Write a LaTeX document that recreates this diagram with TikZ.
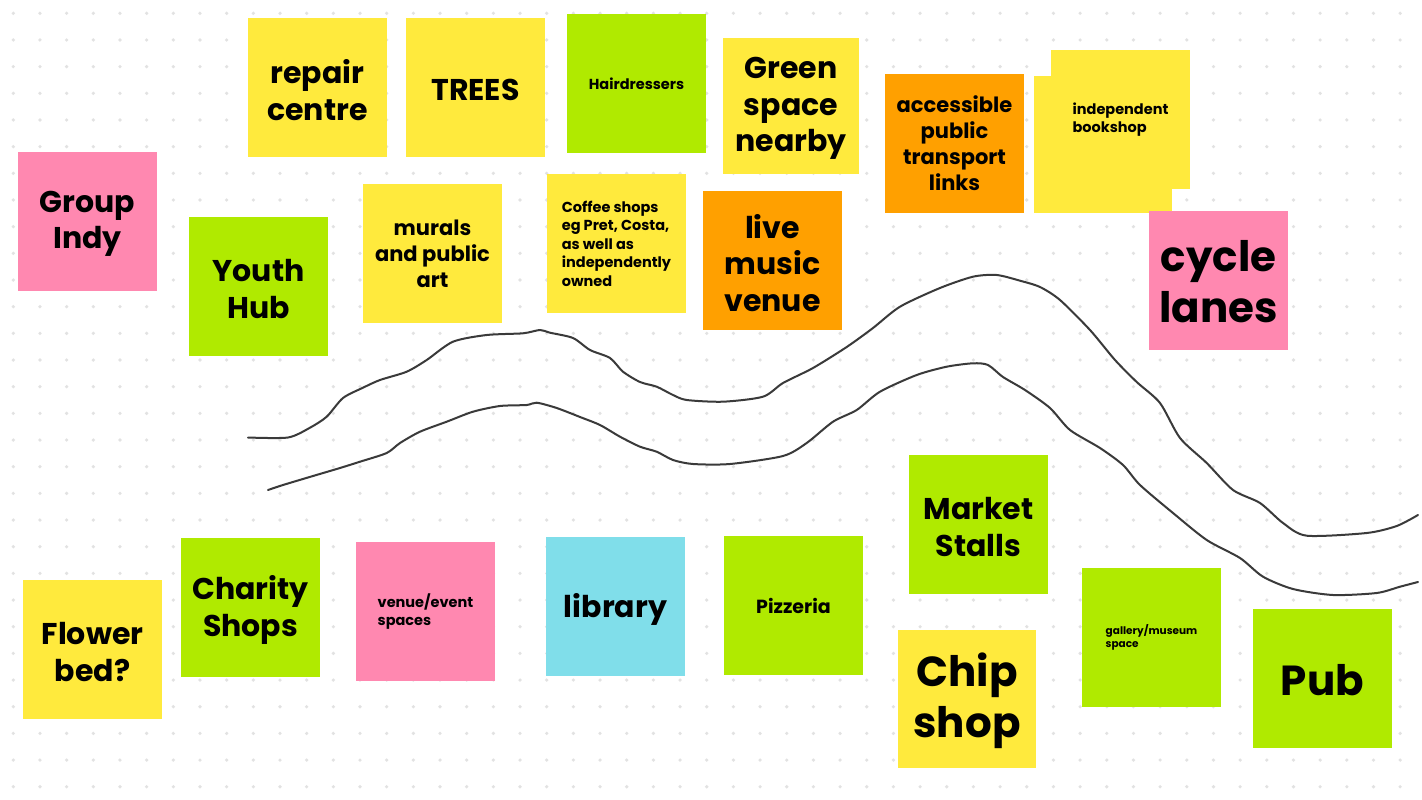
\documentclass[tikz,border=0pt]{standalone}
\usepackage{fontspec}
\setmainfont{Poppins}
\definecolor{ny}{HTML}{FFEA3D}
\definecolor{ng}{HTML}{B0EA00}
\definecolor{np}{HTML}{FF88B0}
\definecolor{no}{HTML}{FFA000}
\definecolor{nb}{HTML}{80DEEA}
\definecolor{dotc}{HTML}{E2E2E2}
\definecolor{linec}{HTML}{3A3A3A}
\tikzset{
  note/.style={minimum width=139pt, minimum height=139pt, inner sep=0pt, draw=none},
  lbl/.style={inner sep=0pt, text=black, font=\bfseries},
  fxl/.style={lbl, align=center, yshift=-2.5pt, font=\bfseries\fontsize{30}{36.5}\selectfont},
  fl/.style={lbl, align=center, font=\bfseries\fontsize{21}{26}\selectfont},
  fxxl/.style={lbl, align=center, yshift=-1.5pt, font=\bfseries\fontsize{42}{51}\selectfont},
  fs/.style={lbl, align=left, font=\bfseries\fontsize{14.5}{18.5}\selectfont},
  fxs/.style={lbl, align=left, font=\bfseries\fontsize{10.5}{13}\selectfont},
  wave/.style={draw=linec, line width=2pt, line join=round, line cap=round}
}
\begin{document}
\begin{tikzpicture}[x=1pt,y=-1pt]
\useasboundingbox (0,0) rectangle (1422,800);
\fill[white] (0,0) rectangle (1422,800);
% dot grid
\foreach \i in {0,...,53}{
  \foreach \j in {0,...,29}{
    \fill[dotc] ({13.3+26.67*\i},{13.3+26.67*\j}) circle (1.8pt);
  }
}
% waves
\draw[wave] plot[smooth, tension=0.45] coordinates {(248,437.5) (288,437.5) (310,427.7) (326.7,416.7) (343,398) (363,387.7) (380,380) (406.7,371.7) (426.7,360) (453,341.7) (486.7,335) (523,333.3) (540,330) (550,332.7) (573,338) (590,350) (610,358) (623,371.7) (640,382) (656.7,386.7) (673,395) (686.7,400) (723,401.7) (763,396.7) (783,383) (813,368) (846.7,347) (873,328) (900,306.7) (940,288) (973,276.7) (996.7,275) (1020,280.7) (1040,287) (1060,300) (1090,330) (1115,360) (1136.7,382) (1160,403) (1180,438) (1206.7,463) (1233,490) (1260,503) (1283,523) (1306.7,535.7) (1366.7,533) (1396.7,526) (1418,515)};
\draw[wave] plot[smooth, tension=0.45] coordinates {(268,490) (283,485) (313,476) (340,468) (360,461.7) (386.7,453) (400,443) (420,431.7) (446.7,421.7) (473,411.7) (500,406) (526.7,405) (536.7,402.7) (556.7,408) (580,417) (600,425) (620,436.7) (640,446.7) (656.7,451.7) (673,460) (693,464) (730,464) (783,456) (806.7,443) (833,421.7) (856.7,410) (880,391.7) (916.7,375) (946.7,366.7) (973,363.3) (988,365) (1003,377) (1025,390) (1050,408) (1070,430) (1100,448) (1123,465) (1140,485) (1173,513) (1206.7,540) (1240,558) (1263,576.7) (1293,589) (1333,595) (1376.7,593) (1400,586.7) (1418,582)};
% top row notes
\node[note, fill=ny] (repair) at (317.5,87.5) {};
\node[fxl] (trepair) at (repair.center) {repair\\centre};
\node[note, fill=ny] (trees) at (475.5,87.5) {};
\node[fxl] (ttrees) at (trees.center) {TREES};
\node[note, fill=ng] (hair) at (636.5,83.5) {};
\node[fs] (thair) at (hair.center) {Hairdressers};
\node[note, fill=ny, minimum width=136pt, minimum height=136pt] (green) at (791,106) {};
\node[fxl] (tgreen) at (green.center) {Green\\space\\nearby};
\node[note, fill=no] (access) at (954.5,143.5) {};
\node[fl] (taccess) at (access.center) {accessible\\public\\transport\\links};
\node[note, fill=ny] (bookback) at (1120.5,119.5) {};
\node[note, fill=ny, minimum width=138pt, minimum height=137pt] (bookfront) at (1103,144.5) {};
\node[fs] (tbook) at (bookback.center) {independent\\bookshop};
% middle-upper notes
\node[note, fill=np] (group) at (87.5,221.5) {};
\node[fxl] (tgroup) at (group.center) {Group\\Indy};
\node[note, fill=ng] (youth) at (258.5,286.5) {};
\node[fxl] (tyouth) at (youth.center) {Youth\\Hub};
\node[note, fill=ny] (murals) at (432.5,253.5) {};
\node[fl] (tmurals) at (murals.center) {murals\\and public\\art};
\node[note, fill=ny] (coffee) at (616.5,243.5) {};
\node[fs] (tcoffee) at (coffee.center) {Coffee shops\\eg Pret, Costa,\\as well as\\independently\\owned};
\node[note, fill=no] (live) at (772.5,260.5) {};
\node[fxl] (tlive) at (live.center) {live\\music\\venue};
\node[note, fill=np] (cycle) at (1218.5,280.5) {};
\node[fxxl] (tcycle) at (cycle.center) {cycle\\lanes};
% bottom notes
\node[note, fill=ny] (flower) at (92.5,649.5) {};
\node[fxl] (tflower) at (flower.center) {Flower\\bed?};
\node[note, fill=ng] (charity) at (250.5,607.5) {};
\node[fxl] (tcharity) at (charity.center) {Charity\\Shops};
\node[note, fill=np] (venue) at (425.5,611.5) {};
\node[fs] (tvenue) at (venue.center) {venue/event\\spaces};
\node[note, fill=nb] (library) at (615.5,606.5) {};
\node[fxl] (tlibrary) at (library.center) {library};
\node[note, fill=ng] (pizza) at (793.5,605.5) {};
\node[lbl, font=\bfseries\fontsize{19}{23}\selectfont] (tpizza) at (pizza.center) {Pizzeria};
\node[note, fill=ng] (market) at (978.5,524.5) {};
\node[fxl] (tmarket) at (market.center) {Market\\Stalls};
\node[note, fill=ny, minimum width=138pt, minimum height=138pt] (chip) at (967,699) {};
\node[fxxl] (tchip) at (chip.center) {Chip\\shop};
\node[note, fill=ng] (gallery) at (1151.5,637.5) {};
\node[fxs] (tgallery) at (gallery.center) {gallery/museum\\space};
\node[note, fill=ng] (pub) at (1322.5,678.5) {};
\node[fxxl] (tpub) at (pub.center) {Pub};
\end{tikzpicture}
\end{document}
